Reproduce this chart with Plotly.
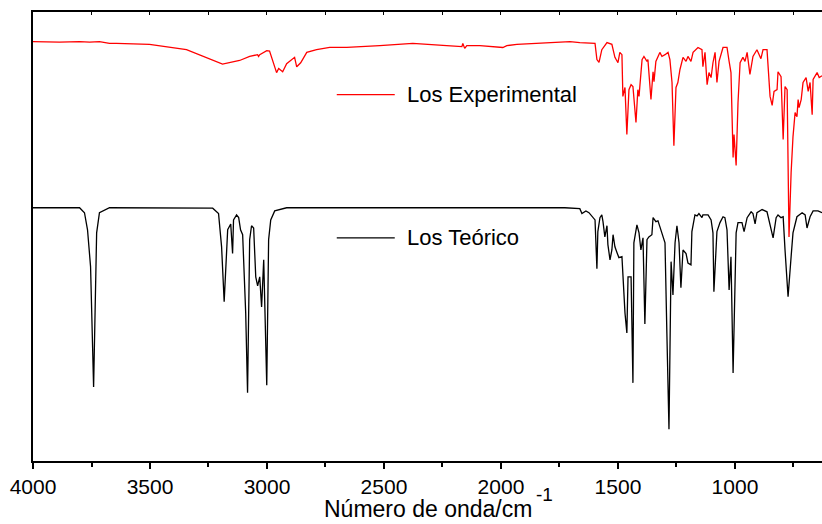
import plotly.graph_objects as go

# ---- data ----
# Wavenumber (cm-1) and transmittance-like arbitrary units (0-100 axis)
exp_wn = [4000, 3887, 3801, 3758, 3716, 3673, 3643, 3502, 3344, 3258, 3190, 3117, 3074, 3040, 3036, 3031,
          3001, 2989, 2976, 2959, 2950, 2933, 2916, 2890, 2882, 2873, 2856, 2830, 2788, 2732, 2659, 2518,
          2377, 2232, 2167, 2163, 2155, 2146, 2090, 1992, 1975, 1932, 1804, 1705, 1663, 1607, 1598, 1590,
          1581, 1569, 1547, 1526, 1513, 1500, 1492, 1483, 1479, 1470, 1462, 1453, 1444, 1436, 1423, 1415,
          1410, 1397, 1389, 1376, 1372, 1359, 1350, 1346, 1338, 1321, 1312, 1299, 1286, 1278, 1269, 1261,
          1252, 1244, 1235, 1222, 1209, 1201, 1188, 1179, 1158, 1141, 1137, 1128, 1119, 1111, 1102, 1094,
          1085, 1077, 1068, 1051, 1034, 1025, 1017, 1008, 1004, 995, 987, 978, 966, 957, 948, 936, 923,
          906, 889, 880, 863, 850, 841, 833, 820, 816, 803, 794, 786, 777, 769, 760, 752, 743, 735, 730,
          726, 717, 709, 696, 687, 679, 670, 666, 649, 640, 628]
exp_t = [93.4, 93.3, 93.4, 93.3, 93.4, 93.0, 93.0, 92.8, 91.6, 89.9, 88.4, 89.2, 90.1, 90.5, 90.1, 90.5,
         91.4, 91.3, 89.4, 86.5, 87.4, 86.7, 88.5, 89.6, 89.9, 87.8, 88.7, 91.0, 91.6, 92.1, 92.1, 92.5,
         93.0, 92.5, 92.3, 93.0, 91.9, 92.5, 92.5, 92.1, 92.5, 92.8, 93.2, 93.4, 93.2, 93.0, 93.0, 89.4,
         88.8, 91.6, 93.2, 92.8, 89.9, 88.7, 91.0, 90.5, 81.2, 83.2, 72.7, 82.7, 83.8, 83.4, 75.4, 82.7,
         81.2, 89.4, 90.1, 89.0, 89.4, 80.5, 86.7, 84.5, 89.0, 91.0, 90.1, 90.5, 91.0, 89.4, 84.3, 70.2,
         83.2, 84.3, 87.2, 89.9, 89.0, 90.1, 89.0, 91.0, 92.1, 91.6, 87.8, 91.0, 83.8, 86.5, 85.4, 88.7,
         91.0, 84.3, 89.0, 92.1, 92.1, 89.0, 86.5, 67.6, 72.7, 65.8, 79.8, 88.7, 89.9, 89.0, 91.0, 86.1, 90.1,
         91.6, 89.6, 91.6, 91.6, 81.2, 79.2, 82.3, 82.7, 86.7, 85.6, 71.6, 83.4, 82.7, 49.9, 64.2, 72.2, 77.6, 76.7, 80.5,
         78.7, 80.5, 84.3, 85.4, 82.3, 84.3, 77.1, 85.0, 86.5, 85.4, 85.8]

teo_wn = [4000, 3801, 3780, 3767, 3754, 3741, 3728, 3716, 3673, 3232, 3207, 3194, 3183, 3172, 3168, 3155,
          3147, 3143, 3130, 3121, 3113, 3104, 3091, 3083, 3074, 3066, 3057, 3048, 3040, 3031, 3023, 3014,
          3001, 2993, 2984, 2967, 2916, 1727, 1663, 1654, 1637, 1624, 1607, 1598, 1590, 1586, 1577, 1569,
          1564, 1556, 1547, 1543, 1534, 1526, 1521, 1513, 1504, 1496, 1483, 1479, 1470, 1462, 1457, 1444,
          1436, 1432, 1419, 1410, 1402, 1393, 1385, 1376, 1368, 1355, 1350, 1338, 1329, 1321, 1308, 1299,
          1291, 1282, 1273, 1265, 1256, 1248, 1239, 1231, 1222, 1209, 1201, 1188, 1184, 1171, 1162, 1154,
          1141, 1137, 1115, 1102, 1094, 1090, 1077, 1064, 1051, 1043, 1034, 1025, 1017, 1008, 995, 987,
          970, 961, 948, 931, 923, 914, 906, 884, 863, 850, 837, 824, 816, 803, 794, 786, 773, 760, 752,
          735, 713, 700, 692, 679, 666, 645, 628]
teo_t = [56.4, 56.4, 55.3, 51.5, 43.3, 16.5, 50.8, 55.3, 56.4, 56.3, 55.1, 47.7, 35.5, 45.5, 51.5, 52.8,
         46.2, 53.7, 54.8, 54.2, 51.5, 50.4, 33.0, 15.2, 49.3, 52.4, 51.9, 41.0, 39.0, 41.0, 34.3, 44.8,
         16.9, 49.3, 53.7, 55.7, 56.4, 56.4, 56.2, 55.1, 55.7, 55.3, 54.4, 53.7, 42.8, 51.1, 54.2, 54.8,
         53.3, 49.9, 52.4, 48.2, 44.8, 47.0, 50.4, 47.7, 46.4, 45.3, 45.5, 41.0, 33.0, 28.5, 41.0, 41.0,
         17.4, 48.6, 52.6, 50.8, 47.0, 49.7, 30.5, 49.3, 49.9, 50.4, 54.2, 53.3, 53.5, 52.2, 49.9, 48.6,
         28.5, 7.1, 44.4, 37.0, 48.6, 52.4, 48.6, 38.6, 47.0, 46.2, 44.1, 43.7, 51.1, 54.8, 54.6, 55.1,
         54.2, 54.8, 54.8, 53.7, 50.8, 37.7, 51.1, 53.1, 54.4, 54.2, 51.5, 38.1, 45.5, 19.6, 50.8, 53.1,
         53.1, 51.1, 54.2, 55.5, 55.1, 52.8, 55.3, 56.0, 55.5, 52.6, 49.7, 54.2, 54.8, 54.2, 54.4, 47.0, 36.6, 45.5, 50.8,
         54.4, 55.3, 54.8, 51.9, 54.4, 55.7, 55.7, 55.3]

series_names = ["Los Experimental", "Los Teórico"]
x_ticks = [4000, 3500, 3000, 2500, 2000, 1500, 1000]
x_title = "Número de onda/cm"
x_title_exp = "-1"

FONT = "Arial, Liberation Sans, sans-serif"

fig = go.Figure()
fig.add_trace(go.Scatter(x=teo_wn, y=teo_t, mode="lines", name=series_names[1],
                         line=dict(color="#000000", width=1.3), showlegend=False))
fig.add_trace(go.Scatter(x=exp_wn, y=exp_t, mode="lines", name=series_names[0],
                         line=dict(color="#ff0000", width=1.3), showlegend=False))
# dummy trace to carry the top (mirror) axis
fig.add_trace(go.Scatter(x=[exp_wn[0]], y=[exp_t[0]], xaxis="x2", mode="lines",
                         showlegend=False, hoverinfo="skip", line=dict(width=0)))

fig.update_layout(
    width=822, height=524,
    margin=dict(l=33, r=0, t=12, b=63),
    paper_bgcolor="white", plot_bgcolor="white",
    font=dict(family=FONT, color="black"),
    xaxis=dict(range=[4000, 628], tickvals=x_ticks, ticks="outside", ticklen=6, tickwidth=1.5,
               tickcolor="black", showline=True, linewidth=2, linecolor="black",
               showgrid=False, zeroline=False, tickfont=dict(size=21),
               minor=dict(dtick=250, tick0=4000, ticks="outside", ticklen=4, tickwidth=1.5, tickcolor="black")),
    xaxis2=dict(overlaying="x", matches="x", side="top", range=[4000, 628], tickvals=x_ticks,
                ticks="inside", ticklen=3, tickwidth=1, tickcolor="black", showticklabels=False,
                showline=True, linewidth=2, linecolor="black", showgrid=False, zeroline=False,
                minor=dict(dtick=250, tick0=4000, ticks="inside", ticklen=3, tickwidth=1, tickcolor="black")),
    yaxis=dict(range=[0, 100], showline=True, linewidth=2, linecolor="black", ticks="",
               showticklabels=False, showgrid=False, zeroline=False),
)

# x-axis title (with raised exponent) placed at the bottom edge
fig.add_annotation(text=x_title, xref="paper", yref="paper", x=0.6345, y=-63 / 449, xanchor="right",
                   yanchor="bottom", yshift=0, showarrow=False,
                   font=dict(size=23, color="black", family=FONT))
fig.add_annotation(text=x_title_exp, xref="paper", yref="paper", x=0.6355, y=-46 / 449, xanchor="left",
                   yanchor="bottom", showarrow=False,
                   font=dict(size=19, color="black", family=FONT))

# legend-like labels placed next to each spectrum
legend_items = [(series_names[0], "#ff0000", 0.816), (series_names[1], "#000000", 0.497)]
for name, color, yp in legend_items:
    fig.add_shape(type="line", xref="paper", yref="paper", x0=0.385, x1=0.4585, y0=yp, y1=yp,
                  line=dict(color=color, width=1.3))
    fig.add_annotation(text=name, xref="paper", yref="paper", x=0.4711, y=yp, xanchor="left",
                       yanchor="middle", showarrow=False, font=dict(size=22, color="black", family=FONT))

fig.write_html("out.html")
